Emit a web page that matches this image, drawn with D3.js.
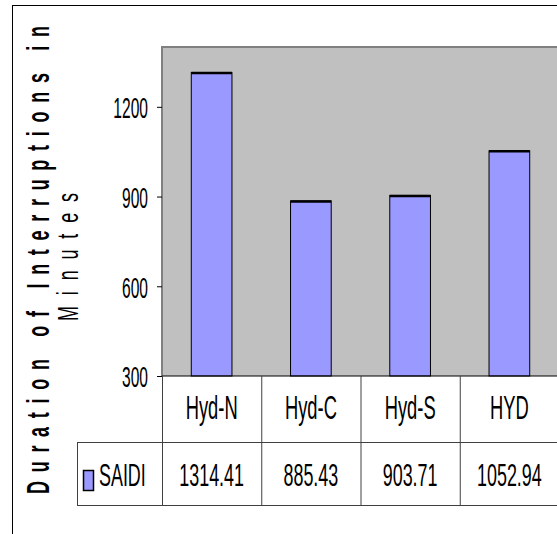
<!DOCTYPE html>
<html>
<head>
<meta charset="utf-8">
<script src="https://d3js.org/d3.v7.min.js"></script>
<style>
  html, body { margin: 0; padding: 0; background: #fff; }
  svg { display: block; font-family: "Liberation Sans", Arial, sans-serif; }
</style>
</head>
<body>
<div id="chart"></div>
<script>
// SAIDI by area
const categories = ["Hyd-N", "Hyd-C", "Hyd-S", "HYD"];
const saidi = [1314.41, 885.43, 903.71, 1052.94];
const seriesName = "SAIDI";
const yTicks = [300, 600, 900, 1200];
const yDomain = [300, 1400];
const titleLines = ["Duration of Interruptions in", "Minutes"];

const W = 557, H = 534;
const plot = { left: 162, right: 559, top: 47, bottom: 376 };
const table = { row1: 442, row2: 505, legendLeft: 77 };

const svg = d3.select("#chart").append("svg")
  .attr("width", W).attr("height", H);

// chart area frame
svg.append("rect")
  .attr("x", 12.5).attr("y", 5.5)
  .attr("width", 700).attr("height", 700)
  .attr("fill", "#fff").attr("stroke", "#000").attr("stroke-width", 1);

const x = d3.scaleBand().domain(categories)
  .range([plot.left, plot.right])
  .paddingInner(0.59).paddingOuter(0.295);
const col = d3.scaleBand().domain(categories)
  .range([plot.left, plot.right]).padding(0);
const y = d3.scaleLinear().domain(yDomain).range([plot.bottom, plot.top]);

// plot area
svg.append("rect")
  .attr("x", plot.left).attr("y", plot.top)
  .attr("width", plot.right - plot.left).attr("height", plot.bottom - plot.top)
  .attr("fill", "#c0c0c0");
svg.append("path")
  .attr("d", `M${plot.left},${plot.bottom}V${plot.top}H${plot.right + 5}`)
  .attr("fill", "none").attr("stroke", "#808080").attr("stroke-width", 2);

// bars
const data = categories.map((c, i) => ({ c, v: saidi[i] }));
const bars = svg.append("g");
bars.selectAll("rect").data(data).join("rect")
  .attr("x", d => x(d.c)).attr("y", d => y(d.v))
  .attr("width", x.bandwidth()).attr("height", d => y(yDomain[0]) - y(d.v))
  .attr("fill", "#9999ff").attr("stroke", "#000").attr("stroke-width", 1);
bars.selectAll("line").data(data).join("line")
  .attr("x1", d => x(d.c)).attr("x2", d => x(d.c) + x.bandwidth())
  .attr("y1", d => y(d.v) + 0.5).attr("y2", d => y(d.v) + 0.5)
  .attr("stroke", "#000").attr("stroke-width", 2.5);

// value axis
const yAxis = svg.append("g")
  .attr("transform", `translate(${plot.left},0)`)
  .call(d3.axisLeft(y).tickValues(yTicks).tickSize(5).tickFormat(d3.format("d")));
yAxis.select(".domain").remove();
yAxis.selectAll(".tick line").attr("stroke", "#000");
yAxis.selectAll(".tick text")
  .attr("font-size", 30).attr("fill", "#000")
  .attr("transform", "scale(0.52,1)")
  .attr("x", -14 / 0.52).attr("dy", "0.36em");

// data table
const grid = svg.append("g").attr("stroke", "#404040").attr("stroke-width", 1).attr("fill", "none");
grid.append("line")
  .attr("x1", plot.left).attr("x2", plot.right + 5)
  .attr("y1", plot.bottom).attr("y2", plot.bottom).attr("stroke", "#000");
[table.row1, table.row2].forEach(ry => {
  grid.append("line")
    .attr("x1", table.legendLeft).attr("x2", plot.right + 5)
    .attr("y1", ry + 0.5).attr("y2", ry + 0.5);
});
grid.append("line")
  .attr("x1", table.legendLeft + 0.5).attr("x2", table.legendLeft + 0.5)
  .attr("y1", table.row1).attr("y2", table.row2);
categories.forEach(c => {
  grid.append("line")
    .attr("x1", col(c) + 0.5).attr("x2", col(c) + 0.5)
    .attr("y1", plot.bottom).attr("y2", table.row2);
});

const cellText = svg.append("g").attr("fill", "#000").attr("text-anchor", "middle");
cellText.selectAll("text.cat").data(categories).join("text")
  .attr("class", "cat")
  .attr("font-size", 34)
  .attr("transform", c => `translate(${col(c) + col.bandwidth() / 2},419) scale(0.54,1)`)
  .text(c => c);
cellText.selectAll("text.val").data(saidi).join("text")
  .attr("class", "val")
  .attr("font-size", 32)
  .attr("transform", (v, i) => `translate(${col(categories[i]) + col.bandwidth() / 2},486) scale(0.56,1)`)
  .text(v => v.toFixed(2));

// legend key inside the table
svg.append("rect")
  .attr("x", 83.5).attr("y", 470.5).attr("width", 10).attr("height", 20)
  .attr("fill", "#9999ff").attr("stroke", "#000").attr("stroke-width", 1.5);
svg.append("text")
  .attr("transform", "translate(99,486) scale(0.56,1)")
  .attr("font-size", 32).attr("fill", "#000")
  .text(seriesName);

// axis title, two lines
svg.append("text")
  .attr("transform", "translate(49,494) rotate(-90) scale(0.58,1)")
  .attr("font-size", 31).attr("font-weight", "bold").attr("fill", "#000")
  .attr("textLength", 468 / 0.58).attr("lengthAdjust", "spacing")
  .text(titleLines[0]);
svg.append("text")
  .attr("transform", "translate(78,321) rotate(-90) scale(0.6,1)")
  .attr("font-size", 30).attr("fill", "#000")
  .attr("textLength", 128 / 0.6).attr("lengthAdjust", "spacing")
  .text(titleLines[1]);
</script>
</body>
</html>
